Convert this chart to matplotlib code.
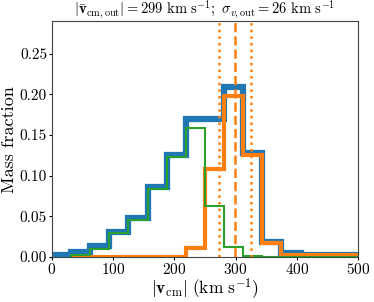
import numpy as np
import matplotlib
matplotlib.use("Agg")
import matplotlib.pyplot as plt

plt.rcParams['mathtext.fontset'] = 'cm'
plt.rcParams['font.family'] = 'serif'
plt.rcParams['font.serif'] = ['cmr10']
plt.rcParams['axes.formatter.use_mathtext'] = True

# bins of 31.25 km/s from 0 to 500
edges = np.linspace(0, 500, 17)

# mass fraction per bin
frac_all = [0.003, 0.006, 0.014, 0.031, 0.048, 0.086, 0.125, 0.170,
            0.170, 0.209, 0.128, 0.019, 0.005, 0.003, 0.003, 0.003]
frac_out = [0.0, 0.0, 0.0, 0.0, 0.0, 0.0, 0.0, 0.0115,
            0.108, 0.198, 0.125, 0.0176, 0.003, 0.002, 0.002, 0.002]
frac_in = [0.0, 0.002, 0.010, 0.029, 0.046, 0.084, 0.123, 0.159,
           0.063, 0.012, 0.0015, 0.0, 0.0, 0.0, 0.0, 0.0]

v_mean = 299
v_sigma = 26

centers = 0.5 * (edges[:-1] + edges[1:])

fig = plt.figure(figsize=(3.74, 3.02), dpi=100)
ax = fig.add_axes([0.139, 0.149, 0.818, 0.781])

ax.hist(centers, bins=edges, weights=frac_all, histtype='step', color='tab:blue', lw=4.5)
ax.hist(centers[1:], bins=edges[1:], weights=frac_out[1:], histtype='step', color='tab:orange', lw=3)
ax.hist(centers[1:], bins=edges[1:], weights=frac_in[1:], histtype='step', color='tab:green', lw=1.5)

ax.axvline(v_mean, color='tab:orange', ls='--', lw=1.8)
ax.axvline(v_mean - v_sigma, color='tab:orange', ls=':', lw=1.8)
ax.axvline(v_mean + v_sigma, color='tab:orange', ls=':', lw=1.8)

ax.set_xlim(0, 500)
ax.set_ylim(0, 0.29)
ax.set_xticks([0, 100, 200, 300, 400, 500])
ax.set_yticks([0, 0.05, 0.10, 0.15, 0.20, 0.25])
ax.set_yticklabels(['0.00', '0.05', '0.10', '0.15', '0.20', '0.25'])
ax.tick_params(labelsize=11, length=2, pad=1.5)
for s in ax.spines.values():
    s.set_color('#444444')

ax.set_xlabel(r'$|\mathbf{v}_{\rm cm}|~({\rm km~s^{-1}})$', fontsize=12.5, labelpad=0)
ax.set_ylabel('Mass fraction', fontsize=13, labelpad=2)
ax.set_title(r'$|\bar{\mathbf{v}}_{\rm cm,out}| = %d~{\rm km~s^{-1}};~\sigma_{v,\rm out} = %d~{\rm km~s^{-1}}$'
             % (v_mean, v_sigma), fontsize=10.5, pad=3)

fig.savefig('out.png', dpi=100)
